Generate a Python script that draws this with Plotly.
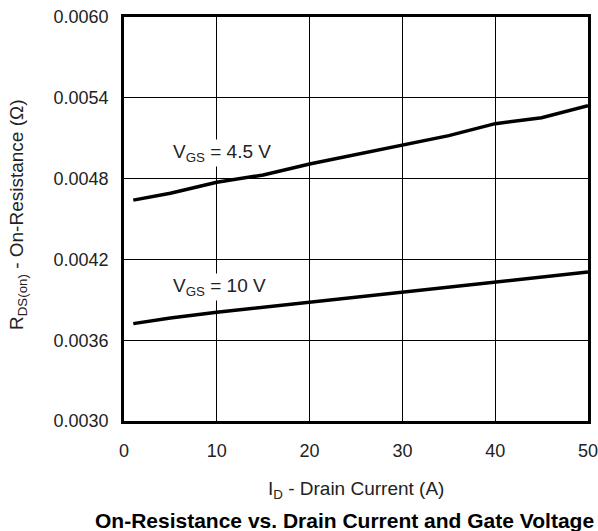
import plotly.graph_objects as go

# Data
current_a = [1, 5, 10, 15, 20, 25, 30, 35, 40, 45, 50]
rds_vgs_4p5 = [0.004640, 0.004691, 0.004773, 0.004827, 0.004908, 0.004978,
               0.005049, 0.005119, 0.005208, 0.005252, 0.005341]
rds_vgs_10 = [0.003723, 0.003765, 0.003807, 0.003844, 0.003881, 0.003921,
              0.003960, 0.003997, 0.004034, 0.004068, 0.004106]
y_ticks = [0.0030, 0.0036, 0.0042, 0.0048, 0.0054, 0.0060]
x_ticks = [0, 10, 20, 30, 40, 50]

FONT = "Liberation Sans, Arial, Helvetica, sans-serif"
TXT = "#222"

fig = go.Figure()
for ys in (rds_vgs_4p5, rds_vgs_10):
    fig.add_trace(go.Scatter(x=current_a, y=ys, mode="lines",
                             line=dict(color="black", width=3.5),
                             showlegend=False, hoverinfo="skip"))

fig.update_layout(
    width=598, height=531,
    margin=dict(l=124, r=10, t=17, b=110, autoexpand=False),
    paper_bgcolor="white", plot_bgcolor="white",
    font=dict(family=FONT, color=TXT, size=18),
    xaxis=dict(range=[0, 50], tickvals=x_ticks, showgrid=True,
               gridcolor="black", gridwidth=1, showline=True,
               linecolor="black", linewidth=2.5, mirror=True,
               zeroline=False, ticks="", ticklabelstandoff=12,
               automargin=False, ticklabeloverflow="allow",
               tickfont=dict(size=18, color=TXT)),
    yaxis=dict(range=[0.0030, 0.0060], tickvals=y_ticks, tickformat=".4f",
               showgrid=True, gridcolor="black", gridwidth=1,
               showline=True, linecolor="black", linewidth=2.5, mirror=True,
               zeroline=False, ticks="", ticklabelstandoff=9,
               automargin=False, ticklabeloverflow="allow",
               tickfont=dict(size=18, color=TXT)),
)

annotations = [
    dict(x=1.0, y=0.00499, text="V<sub>GS</sub> = 4.5 V", xref="x", yref="y",
         xanchor="left", yanchor="middle", showarrow=False, bgcolor="white",
         font=dict(size=19, color=TXT), xshift=38),
    dict(x=1.0, y=0.003995, text="V<sub>GS</sub> = 10 V", xref="x", yref="y",
         xanchor="left", yanchor="middle", showarrow=False, bgcolor="white",
         font=dict(size=19, color=TXT), xshift=38),
    dict(x=0.5, y=0, xref="paper", yref="paper", yshift=-69,
         text="I<sub>D</sub> - Drain Current (A)", showarrow=False,
         yanchor="middle", font=dict(size=19, color=TXT)),
    dict(x=0.475, y=0, xref="paper", yref="paper", yshift=-99,
         text="<b>On-Resistance vs. Drain Current and Gate Voltage</b>",
         showarrow=False, yanchor="middle",
         font=dict(size=21, color="black")),
    dict(x=0, y=0.5, xref="paper", yref="paper", xshift=-106, yshift=4,
         text="R<sub>DS(on)</sub> - On-Resistance (\u03a9)", textangle=-90,
         showarrow=False, xanchor="center", yanchor="middle",
         font=dict(size=19, color=TXT)),
]
fig.update_layout(annotations=annotations)

fig.write_html("out.html")
